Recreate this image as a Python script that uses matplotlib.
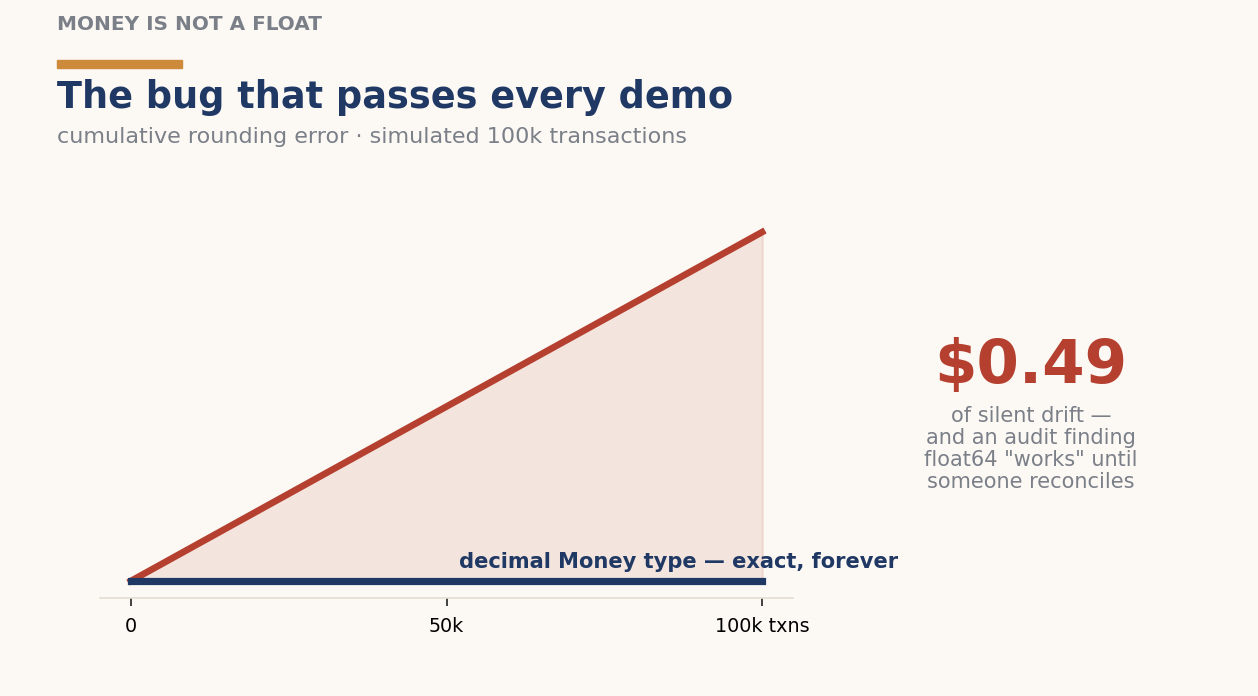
import numpy as np
import matplotlib.pyplot as plt

# data
txns = [0, 100000]
float_drift = [0.0, 0.49]
decimal_drift = [0.0, 0.0]
tick_pos = [0, 50000, 100000]
tick_labels = ["0", "50k", "100k txns"]

BG = "#fcf8f4"
RED = "#b54030"
NAVY = "#1f3864"
GRAY = "#7a7f88"
ORANGE = "#cc8a3a"

fig = plt.figure(figsize=(12.58, 6.96), dpi=100, facecolor=BG)
ax = fig.add_axes([100 / 1258, 1 - 598 / 696, 693 / 1258, 420 / 696])
ax.set_facecolor(BG)

ax.fill_between(txns, decimal_drift, float_drift, color="#f4e4de", edgecolor="#eed6cc", linewidth=1.5, zorder=1)
ax.plot(txns, float_drift, color=RED, linewidth=4.8, solid_capstyle="projecting", zorder=3)
ax.plot(txns, decimal_drift, color=NAVY, linewidth=5.2, solid_capstyle="projecting", zorder=4)

ax.text(52000, 0.012, "decimal Money type \u2014 exact, forever", color=NAVY,
        fontsize=15.1, fontweight="bold", ha="left", va="bottom")

ax.set_xlim(-4900, 104900)
ax.set_ylim(-0.0239, 0.566)
ax.set_xticks(tick_pos)
ax.set_xticklabels(tick_labels, fontsize=13.8)
ax.set_yticks([])
for s in ["top", "right", "left"]:
    ax.spines[s].set_visible(False)
ax.spines["bottom"].set_color("#e4ddd2")
ax.spines["bottom"].set_linewidth(1.2)
ax.tick_params(axis="x", length=6, width=1.2, color="#222222", pad=8)

# header
fig.text(57 / 1258, 1 - 25 / 696, "MONEY IS NOT A FLOAT", color=GRAY, fontsize=14.4,
         fontweight="bold", ha="left", va="center")
fig.patches.append(plt.Rectangle((57 / 1258, 1 - 68 / 696), 125 / 1258, 8 / 696,
                                 transform=fig.transFigure, color=ORANGE))
fig.text(57 / 1258, 1 - 97 / 696, "The bug that passes every demo", color=NAVY, fontsize=26.4,
         fontweight="bold", ha="left", va="center")
fig.text(57 / 1258, 1 - 137 / 696, "cumulative rounding error \u00b7 simulated 100k transactions",
         color=GRAY, fontsize=16, ha="left", va="center")

# callout
fig.text(1031 / 1258, 1 - 366 / 696, "$0.49", color=RED, fontsize=44, fontweight="bold",
         ha="center", va="center")
fig.text(1031 / 1258, 1 - 449 / 696,
         "of silent drift \u2014\nand an audit finding\nfloat64 \"works\" until\nsomeone reconciles",
         color=GRAY, fontsize=15, ha="center", va="center", linespacing=1.12)

fig.savefig("out.png", dpi=100, facecolor=BG)
